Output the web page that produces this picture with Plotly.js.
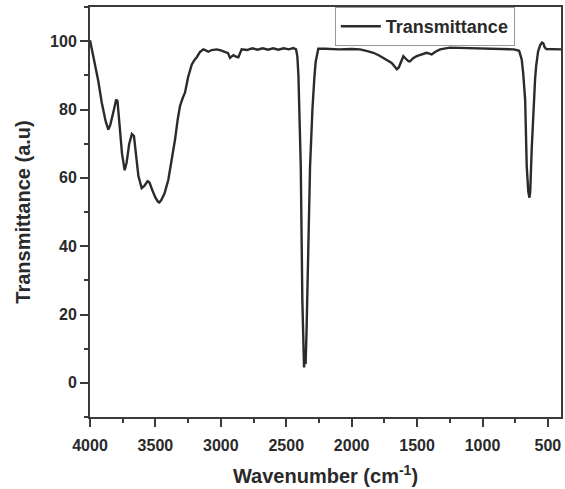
<!DOCTYPE html>
<html>
<head>
<meta charset="utf-8">
<script src="https://cdn.plot.ly/plotly-3.0.1.min.js"></script>
<style>html,body{margin:0;padding:0;background:#fff;}#chart{width:565px;height:489px;}</style>
</head>
<body>
<div id="chart"></div>
<script>
const wavenumber = [4000,3975,3950,3937,3910,3880,3860,3845,3820,3800,3790,3775,3755,3735,3720,3700,3680,3664,3650,3630,3605,3585,3560,3545,3525,3500,3480,3470,3455,3430,3401,3380,3350,3330,3312,3290,3274,3250,3222,3200,3184,3160,3134,3115,3096,3070,3031,3000,2968,2945,2930,2915,2904,2885,2866,2850,2841,2800,2760,2720,2680,2640,2600,2560,2520,2480,2446,2425,2415,2407,2398,2389,2377,2369,2364,2358,2352,2345,2335,2318,2300,2290,2285,2275,2262,2255,2200,2100,2000,1936,1880,1834,1790,1758,1720,1694,1670,1655,1640,1630,1615,1605,1590,1580,1565,1554,1530,1503,1460,1427,1400,1388,1360,1324,1248,1150,1050,950,850,760,720,708,700,690,674,662,650,641,635,624,610,598,590,575,560,545,535,525,512,450,400];
const transmittance = [100.3,95.5,91.5,88.4,82,76.5,74.1,75.5,79.5,82.9,82.5,76,67,62.2,64.5,70,72.8,72.2,67,60.5,57.0,57.6,59.0,58.6,56.5,54.2,53,52.8,53.5,55.5,59.5,64,71.2,77,81.0,83.5,84.9,89.5,93.2,94.6,95.3,96.8,97.6,97.3,96.9,97.4,97.6,97.3,96.9,96.5,95.1,95.6,95.9,95.5,95.3,96.8,97.6,97.4,97.9,97.5,97.9,97.5,97.9,97.5,97.9,97.6,98.0,97.6,95.5,90,75,63.4,24.3,6,4.5,7.5,5.5,15,33,63.4,80,88.5,89.4,94,97.2,97.8,97.8,97.6,97.7,97.6,97.1,96.6,95.8,95.1,94.3,93.6,92.5,91.8,92.3,93.2,95,95.6,95.0,94.6,94.1,94.1,95.0,95.6,96.3,96.6,96.3,96.1,96.9,97.6,98.1,98.0,97.9,97.8,97.8,97.6,97.2,95.6,94.6,91,82.9,63.4,56,54.2,56,68.3,82,89,92.7,97,98.8,99.6,99.4,98.2,97.7,97.6,97.6];
const seriesName = "Transmittance";
const xTitle = "Wavenumber (cm<sup>-1</sup>)";
const yTitle = "Transmittance (a.u)";
const xTicks = [4000,3500,3000,2500,2000,1500,1000,500];
const yTicks = [0,20,40,60,80,100];

const fontFam = 'Liberation Sans, Arial, sans-serif';
const txt = '#2a2a2a';
const ax = '#3a3a3a';

Plotly.newPlot('chart', [{
  x: wavenumber, y: transmittance, name: seriesName, type: 'scatter', mode: 'lines',
  line: {color: '#2b2b2b', width: 2.4}, showlegend: true
}], {
  width: 565, height: 489,
  margin: {l: 90, r: 4, t: 7, b: 72},
  paper_bgcolor: '#fff', plot_bgcolor: '#fff',
  font: {family: fontFam, color: txt},
  showlegend: true,
  legend: {x: 0.902, xanchor: 'right', y: 1, yanchor: 'top', bordercolor: '#999', borderwidth: 1,
           bgcolor: '#fff', itemwidth: 40, font: {size: 18, family: fontFam, color: txt, weight: 'bold'}},
  xaxis: {
    range: [4000, 400], tickvals: xTicks, ticktext: xTicks.map(String),
    ticks: 'outside', ticklen: 8, tickwidth: 2, tickcolor: ax,
    minor: {dtick: 250, tick0: 0, ticks: 'outside', ticklen: 4, tickwidth: 2, tickcolor: ax},
    showline: true, linewidth: 2, linecolor: ax, mirror: true, showgrid: false, zeroline: false,
    tickfont: {size: 16, family: fontFam, color: txt, weight: 'bold'},
    ticklabelstandoff: 5,
    title: {text: xTitle, font: {size: 20, family: fontFam, color: txt, weight: 'bold'}, standoff: 16}
  },
  yaxis: {
    range: [-10, 110], tickvals: yTicks, ticktext: yTicks.map(String),
    ticks: 'outside', ticklen: 8, tickwidth: 2, tickcolor: ax,
    minor: {dtick: 10, tick0: 0, ticks: 'outside', ticklen: 4, tickwidth: 2, tickcolor: ax},
    showline: true, linewidth: 2, linecolor: ax, mirror: true, showgrid: false, zeroline: false,
    tickfont: {size: 16, family: fontFam, color: txt, weight: 'bold'},
    title: {text: yTitle, font: {size: 20, family: fontFam, color: txt, weight: 'bold'}, standoff: 14}
  }
}, {displayModeBar: false, staticPlot: true});
</script>
</body>
</html>
